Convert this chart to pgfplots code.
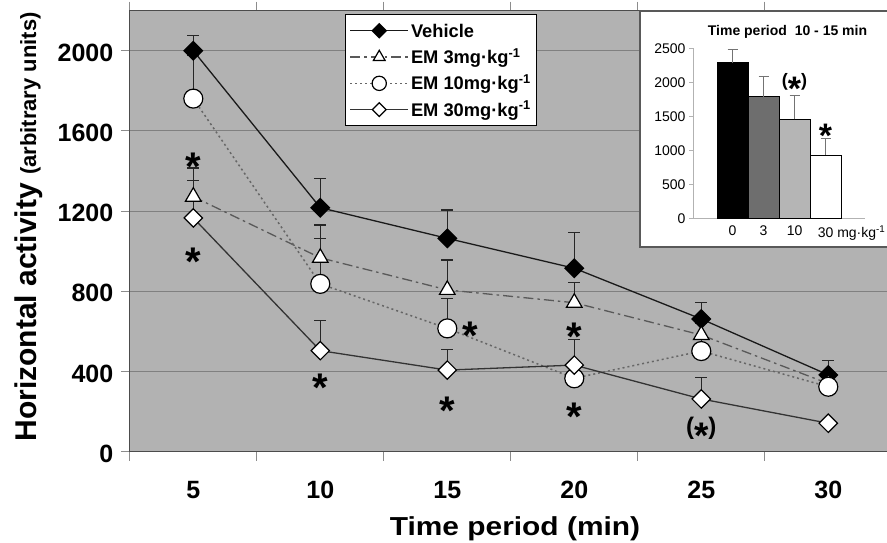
\documentclass[border=0pt]{standalone}
\usepackage{fontspec}
\setmainfont{Liberation Sans}
\usepackage{pgfplots}
\usepackage{pgfplotstable}
\pgfplotsset{compat=1.18}
\definecolor{plotbg}{gray}{0.70}
\definecolor{gridc}{gray}{0.50}

\pgfplotstableread{
x y e
5 2000 75
10 1217 147
15 1064 141
20 915 179
25 662 81
30 383 71
}\vehicle
\pgfplotstableread{
x y e
5 1272 143
10 967 164
15 807 149
20 743 100
25 582 60
30 340 50
}\emthree
\pgfplotstableread{
x y e
5 1761 215
10 837 225
15 615 150
20 366 70
25 502 60
30 324 40
}\emten
\pgfplotstableread{
x y e
5 1166 186
10 504 152
15 407 104
20 432 129
25 263 108
30 142 20
}\emthirty

\tikzset{
  ast/.style={font=\fontsize{40bp}{40bp}\selectfont\bfseries, inner sep=0pt, yshift=-8.7bp},
}

\begin{document}
\begin{tikzpicture}
\useasboundingbox (0,0) rectangle (887bp,543bp);
\begin{axis}[
  at={(129.8bp,91.3bp)}, anchor=south west, scale only axis,
  width=760.7bp, height=441.1bp,
  xmin=2.5, xmax=32.45, ymin=0, ymax=2200,
  axis background/.style={fill=plotbg},
  axis line style={black!70, line width=1.2bp},
  xtick={2.5,7.5,...,32.5}, xticklabels={},
  extra x ticks={5,10,...,30},
  extra x tick style={major tick length=0pt},
  ytick={0,400,...,2000},
  ymajorgrids, grid style={gridc, line width=0.8bp},
  tick align=outside, major tick length=9bp,
  tick style={black!45, line width=0.8bp},
  /pgf/number format/1000 sep={},
  tick label style={font=\fontsize{25bp}{25bp}\selectfont\bfseries, /pgf/number format/assume math mode=true},
  xticklabel style={anchor=base, yshift=-47bp},
  yticklabel style={anchor=east, yshift=-2bp, xshift=-4bp},
  error bars/error bar style={black!85, line width=1.2bp, solid},
  error bars/error mark options={rotate=90, black!85, line width=1.2bp, mark size=5.8bp, solid},
  legend style={at={(0.2829,0.9923)}, anchor=north west, draw=black, line width=1bp, fill=white,
    font=\fontsize{18.3bp}{18.3bp}\selectfont\bfseries, inner xsep=4bp, inner ysep=7.75bp, row sep=9.3bp,
    nodes={inner sep=2bp, text height=13bp, text depth=0bp, anchor=west}},
  legend cell align=left,
  legend image code/.code={\draw[mark repeat=2, mark phase=2, #1, every mark/.append style={scale=0.75}] plot coordinates {(0bp,0bp) (29bp,0bp) (58bp,0bp)};},
]
\addplot[black!90, line width=1.3bp, mark=square*, mark size=6.5bp, mark options={rotate=45, fill=black, draw=black, solid},
  error bars/.cd, y dir=plus, y explicit] table[x=x, y=y, y error=e] {\vehicle};
\addlegendentry{Vehicle}
\addplot[black!65, line width=1.3bp, dash pattern=on 10bp off 4bp on 2.5bp off 4bp, mark=triangle*, mark size=9bp, mark options={fill=white, draw=black, solid, line width=1.2bp},
  error bars/.cd, y dir=plus, y explicit] table[x=x, y=y, y error=e] {\emthree};
\addlegendentry{EM 3mg·kg\textsuperscript{-1}}
\addplot[black!60, line width=1.5bp, dash pattern=on 2bp off 3bp, mark=*, mark size=9.5bp, mark options={fill=white, draw=black, solid, line width=1.2bp},
  error bars/.cd, y dir=plus, y explicit] table[x=x, y=y, y error=e] {\emten};
\addlegendentry{EM 10mg·kg\textsuperscript{-1}}
\addplot[black!80, line width=1.3bp, mark=square*, mark size=6.5bp, mark options={rotate=45, fill=white, draw=black, solid, line width=1.2bp},
  error bars/.cd, y dir=plus, y explicit] table[x=x, y=y, y error=e] {\emthirty};
\addlegendentry{EM 30mg·kg\textsuperscript{-1}}

\node[ast] at (axis cs:5,1467) {*};
\node[ast] at (axis cs:5,993) {*};
\node[ast] at (axis cs:10,363) {*};
\node[ast] at (axis cs:15.89,623) {*};
\node[ast] at (axis cs:15,249) {*};
\node[ast] at (axis cs:20,615) {*};
\node[ast] at (axis cs:20,216) {*};
\node[anchor=base, inner sep=0pt, yshift=-6.2bp, font=\fontsize{24bp}{24bp}\selectfont\bfseries] at (axis cs:25,117) {(\raisebox{-14bp}{\fontsize{37bp}{37bp}\selectfont *})};
\end{axis}

% axis titles
\node[rotate=90, anchor=base] at (36bp,316bp) {\fontsize{30bp}{30bp}\selectfont\bfseries Horizontal activity {\fontsize{22bp}{22bp}\selectfont (arbitrary units)}};
\node[anchor=base, xscale=1.15] at (515bp,8bp) {\fontsize{26bp}{26bp}\selectfont\bfseries Time period (min)};

% inset
\draw[black!65, line width=2.5bp, fill=white] (640bp,296bp) rectangle (897bp,532bp);
\begin{axis}[
  at={(693bp,324.7bp)}, anchor=south west, scale only axis,
  width=172bp, height=170bp,
  xmin=-1.274, xmax=4.27, ymin=0, ymax=2500,
  axis x line*=bottom, axis y line*=left,
  axis line style={black!30, line width=0.8bp},
  xtick={0,1,2,3},
  xticklabels={0,3,10,30\rlap{ mg·kg\textsuperscript{-1}}},
  ytick={0,500,...,2500},
  tick align=outside, major tick length=4bp,
  xtick style={draw=none}, ytick style={black!30, line width=0.8bp},
  /pgf/number format/1000 sep={},
  tick label style={font=\fontsize{14bp}{14bp}\selectfont, /pgf/number format/assume math mode=true},
  ybar, bar width=31bp, bar shift=0pt,
  error bars/error bar style={black!55, line width=1.2bp},
  error bars/error mark options={rotate=90, black!55, line width=1.2bp, mark size=5bp},
]
\addplot[fill=black, draw=black, line width=0.8bp, error bars/.cd, y dir=plus, y explicit] coordinates {(0,2288) +- (0,192)};
\addplot[fill=black!57, draw=black, line width=0.8bp, error bars/.cd, y dir=plus, y explicit] coordinates {(1,1788) +- (0,294)};
\addplot[fill=black!29, draw=black, line width=0.8bp, error bars/.cd, y dir=plus, y explicit] coordinates {(2,1456) +- (0,347)};
\addplot[fill=white, draw=black, line width=0.8bp, error bars/.cd, y dir=plus, y explicit] coordinates {(3,931) +- (0,245)};
\node[anchor=base, inner sep=0pt, yshift=-4.7bp, font=\fontsize{18bp}{18bp}\selectfont\bfseries] at (axis cs:2,2009) {(\raisebox{-14bp}{\fontsize{34bp}{34bp}\selectfont *})};
\node[font=\fontsize{34bp}{34bp}\selectfont\bfseries, inner sep=0pt, yshift=-7.4bp] at (axis cs:3,1323) {*};
\end{axis}
\node[anchor=base] at (787.5bp,507bp) {\fontsize{14bp}{14bp}\selectfont\bfseries Time period\ \ 10 - 15 min};
\end{tikzpicture}
\end{document}
